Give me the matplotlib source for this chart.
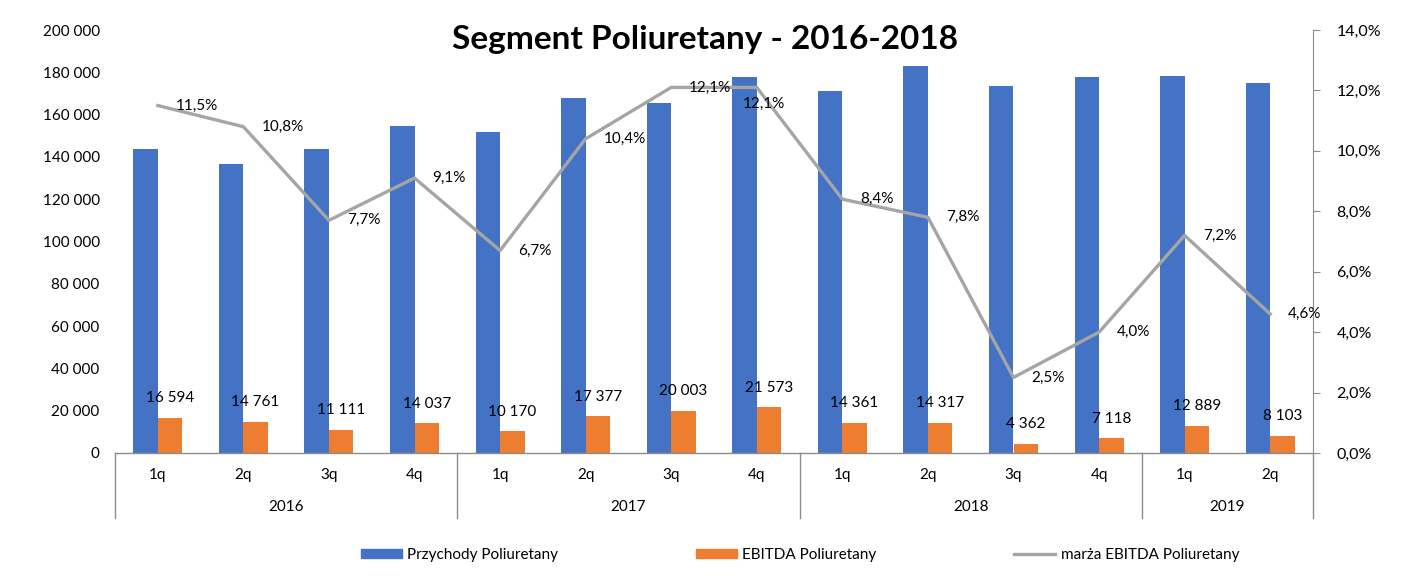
import matplotlib
matplotlib.use("Agg")
import matplotlib.pyplot as plt
from matplotlib.patches import Patch
from matplotlib.lines import Line2D
import matplotlib.transforms as mtransforms

plt.rcParams['font.family'] = ['Lato', 'DejaVu Sans']

quarters = ["1q", "2q", "3q", "4q", "1q", "2q", "3q", "4q", "1q", "2q", "3q", "4q", "1q", "2q"]
years = ["2016", "2017", "2018", "2019"]
year_sizes = [4, 4, 4, 2]
revenue = [143700, 136600, 143700, 154600, 151800, 167800, 165500, 177800,
           171200, 183000, 173500, 177800, 178300, 174900]
ebitda = [16594, 14761, 11111, 14037, 10170, 17377, 20003, 21573,
          14361, 14317, 4362, 7118, 12889, 8103]
margin = [11.5, 10.8, 7.7, 9.1, 6.7, 10.4, 12.1, 12.1, 8.4, 7.8, 2.5, 4.0, 7.2, 4.6]

title = "Segment Poliuretany - 2016-2018"
labels = ["Przychody Poliuretany", "EBITDA Poliuretany", "marża EBITDA Poliuretany"]

BLUE = "#4472C4"
ORANGE = "#ED7D31"
GRAY = "#A5A5A5"
AXGRAY = "#8C8C8C"

W, H = 1412, 587
fig = plt.figure(figsize=(W / 100, H / 100), dpi=100)
ax = fig.add_axes([115 / W, 1 - 453 / H, (1313 - 115) / W, (453 - 30) / H])
ax2 = ax.twinx()

n = len(quarters)
x = list(range(n))
bw = 0.286
ax.bar([i - bw / 2 for i in x], revenue, width=bw, color=BLUE, zorder=2)
ax.bar([i + bw / 2 for i in x], ebitda, width=bw, color=ORANGE, zorder=2)

fs = 11
for i, v in enumerate(ebitda):
    ax.annotate(f"{v:,}".replace(",", " "), (i + bw / 2, v), xytext=(0, 14),
                textcoords="offset points", ha="center", va="center", fontsize=fs)

ax.set_xlim(-0.5, n - 0.5)
ax.set_ylim(0, 200000)
ax.set_yticks(range(0, 200001, 20000))
ax.set_yticklabels([f"{v:,}".replace(",", " ") for v in range(0, 200001, 20000)], fontsize=fs)
ax.tick_params(axis='y', length=0, pad=11)
ax.set_xticks([])
for s in ["top", "left", "right"]:
    ax.spines[s].set_visible(False)
ax.spines["bottom"].set_color(AXGRAY)
ax.spines["bottom"].set_linewidth(1)

ax2.plot(x, margin, color=GRAY, lw=2.4, zorder=3)
ax2.set_ylim(0, 14)
ax2.set_yticks(range(0, 15, 2))
ax2.set_yticklabels([f"{v:.1f}%".replace(".", ",") for v in range(0, 15, 2)], fontsize=11.5)
ax2.tick_params(axis='y', length=5, pad=12, color=AXGRAY)
for s in ["top", "left", "bottom"]:
    ax2.spines[s].set_visible(False)
ax2.spines["right"].set_color(AXGRAY)

special = {7: (-10, -12)}
for i, v in enumerate(margin):
    dx, dy = special.get(i, (13, 0))
    ax2.annotate(f"{v:.1f}%".replace(".", ","), (i, v), xytext=(dx, dy),
                 textcoords="offset points", ha="left", va="center", fontsize=fs, zorder=4)

trans = mtransforms.blended_transform_factory(ax.transData, ax.transAxes)
for i, q in enumerate(quarters):
    ax.text(i, -0.052, q, transform=trans, ha="center", va="center", fontsize=fs)
start = 0
bounds = [0]
for y, sz in zip(years, year_sizes):
    ax.text(start + (sz - 1) / 2, -0.1277, y, transform=trans, ha="center", va="center", fontsize=fs)
    start += sz
    bounds.append(start)
for b in bounds:
    ax.plot([b - 0.5, b - 0.5], [0, -0.1537], transform=trans, color=AXGRAY, lw=1, clip_on=False)

fig.text(705 / W, 1 - 40 / H, title, ha="center", va="center", fontsize=24, fontweight="bold")

handles = [Patch(color=BLUE), Patch(color=ORANGE), Line2D([], [], color=GRAY, lw=2.4)]
fig.legend(handles, labels, loc="center", bbox_to_anchor=(800 / W, 1 - 555 / H), ncol=3,
           frameon=False, fontsize=fs, handlelength=2.7, handleheight=0.6,
           handletextpad=0.35, columnspacing=9.0)

fig.savefig("out.png", dpi=100)
